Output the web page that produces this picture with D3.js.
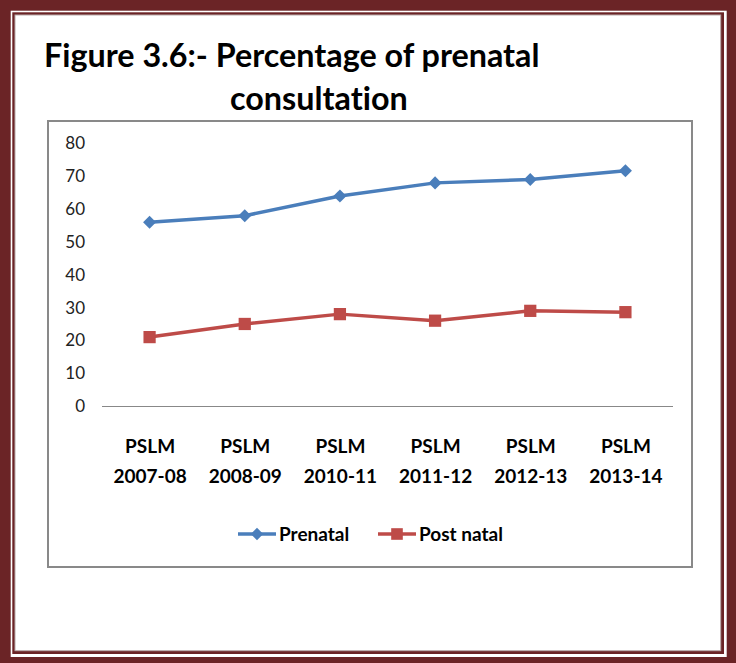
<!DOCTYPE html>
<html>
<head>
<meta charset="utf-8">
<script src="https://cdn.jsdelivr.net/npm/d3@7"></script>
<style>
	html, body { margin: 0; padding: 0; background: #fff; }
	svg { display: block; }
	text { font-variant-ligatures: none; }
</style>
</head>
<body>
<svg id="chart" width="736" height="663"></svg>
<script>
var aCategories = ["PSLM 2007-08", "PSLM 2008-09", "PSLM 2010-11", "PSLM 2011-12", "PSLM 2012-13", "PSLM 2013-14"];
var aPrenatal = [56, 58, 64, 68, 69, 71.7];
var aPostNatal = [21, 25, 28, 26, 29, 28.6];
var aYTicks = [0, 10, 20, 30, 40, 50, 60, 70, 80];
var aSeriesNames = ["Prenatal", "Post natal"];

var sMaroon = "#6b2426",
	sFont = "Lato, 'Open Sans', sans-serif";

var $svg = d3.select("#chart");

// page frame: thick outer band, thin inner line
$svg.append("rect").attr("x", 0).attr("y", 0).attr("width", 736).attr("height", 663).attr("fill", sMaroon);
$svg.append("rect").attr("x", 10.7).attr("y", 10.7).attr("width", 716).attr("height", 646.3).attr("fill", "#fff");
$svg.append("rect").attr("x", 12.3).attr("y", 12.3).attr("width", 711.7).attr("height", 641.7).attr("fill", sMaroon);
$svg.append("rect").attr("x", 15).attr("y", 15).attr("width", 705.7).attr("height", 635.7).attr("fill", "#fff")
	.attr("stroke", "#b9a9a9").attr("stroke-width", 1);

// title
var $title = $svg.append("text")
	.attr("font-family", sFont)
	.attr("font-weight", "bold")
	.attr("font-size", 32.3)
	.attr("fill", "#000");
$title.append("tspan").attr("x", 44).attr("y", 67).text("Figure 3.6:- Percentage of prenatal");
$title.append("tspan").attr("x", 230).attr("y", 110).text("consultation");

// chart box
$svg.append("rect")
	.attr("x", 48).attr("y", 121).attr("width", 644).attr("height", 446)
	.attr("fill", "none").attr("stroke", "#898989").attr("stroke-width", 2);

var x = d3.scalePoint().domain(aCategories).range([102, 673]).padding(0.5),
	y = d3.scaleLinear().domain([0, 80]).range([406, 143.5]);

// y axis labels, no axis line
var $yAxis = $svg.append("g")
	.attr("transform", "translate(102,0)")
	.call(d3.axisLeft(y).tickValues(aYTicks).tickSize(0).tickPadding(17));
$yAxis.select(".domain").remove();
$yAxis.selectAll("text")
	.attr("font-family", sFont)
	.attr("font-size", 17)
	.attr("fill", "#222");

// x axis line at zero
var $xAxis = $svg.append("g")
	.attr("transform", "translate(0," + y(0) + ")")
	.call(d3.axisBottom(x).tickSize(0).tickFormat(""));
$xAxis.select(".domain")
	.attr("d", "M" + x.range()[0] + ",0.5H" + x.range()[1])
	.attr("stroke", "#888").attr("stroke-width", 1);

// category labels on two lines
$xAxis.selectAll(".tick").each(function (d) {
	var aParts = d.split(" "),
		$t = d3.select(this).append("text")
			.attr("text-anchor", "middle")
			.attr("font-family", sFont)
			.attr("font-weight", "bold")
			.attr("font-size", 19)
			.attr("fill", "#000");
	$t.append("tspan").attr("x", 0).attr("y", 47).text(aParts[0]);
	$t.append("tspan").attr("x", 0).attr("y", 77).text(aParts[1]);
});

var aSeries = [
	{name: aSeriesNames[0], values: aPrenatal, color: "#4a7ebb", rotate: 45, size: 85},
	{name: aSeriesNames[1], values: aPostNatal, color: "#be4b48", rotate: 0, size: 150}
];

var fLine = d3.line()
	.x(function (d, i) { return x(aCategories[i]); })
	.y(function (d) { return y(d); });

aSeries.forEach(function (oSeries) {
	var $g = $svg.append("g");
	$g.append("path")
		.attr("d", fLine(oSeries.values))
		.attr("fill", "none")
		.attr("stroke", oSeries.color)
		.attr("stroke-width", 3.5)
		.attr("stroke-linejoin", "round");
	$g.selectAll("path.marker")
		.data(oSeries.values)
		.enter().append("path")
		.attr("class", "marker")
		.attr("d", d3.symbol().type(d3.symbolSquare).size(oSeries.size))
		.attr("fill", oSeries.color)
		.attr("transform", function (d, i) {
			return "translate(" + x(aCategories[i]) + "," + y(d) + ") rotate(" + oSeries.rotate + ")";
		});
});

// legend
var aLegendX = [238, 378];
aSeries.forEach(function (oSeries, i) {
	var $g = $svg.append("g").attr("transform", "translate(" + aLegendX[i] + ",534)");
	$g.append("line")
		.attr("x1", 0).attr("x2", 38).attr("y1", 0).attr("y2", 0)
		.attr("stroke", oSeries.color).attr("stroke-width", 3.5);
	$g.append("path")
		.attr("d", d3.symbol().type(d3.symbolSquare).size(oSeries.size * 0.9))
		.attr("fill", oSeries.color)
		.attr("transform", "translate(19,0) rotate(" + oSeries.rotate + ")");
	$g.append("text")
		.attr("x", 41).attr("y", 7)
		.attr("font-family", sFont)
		.attr("font-weight", "bold")
		.attr("font-size", 19)
		.attr("fill", "#000")
		.text(oSeries.name);
});
</script>
</body>
</html>
